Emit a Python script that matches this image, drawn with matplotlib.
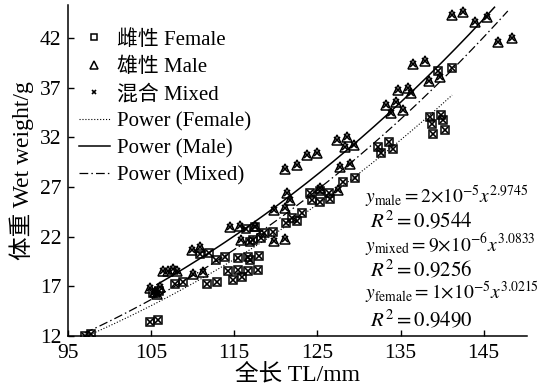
import numpy as np
import matplotlib.pyplot as plt

plt.rcParams['font.family'] = ['Liberation Serif', 'Noto Sans CJK SC']
plt.rcParams['mathtext.fontset'] = 'stix'

# total length (mm) and wet weight (g), female fish
female_tl = [97.0, 97.8, 104.9, 105.8, 105.2, 106.0, 107.9, 108.8, 111.7, 112.9,
             110.9, 112.0, 112.8, 113.9, 114.2, 114.8, 115.4, 115.9, 116.6, 117.8,
             115.4, 116.6, 116.9, 118.0, 116.4, 117.5, 116.9, 117.2, 118.2, 118.6,
             119.6, 121.2, 121.9, 122.5, 123.2, 124.1, 125.3, 126.4, 124.3, 125.3,
             126.5, 128.1, 129.5, 132.3, 132.7, 133.6, 134.1, 138.5, 138.8, 139.9,
             140.1, 138.9, 140.3, 139.5, 141.2]
female_wt = [12.0, 12.2, 13.4, 13.6, 16.3, 16.5, 17.2, 17.4, 17.2, 17.4,
             20.2, 20.3, 19.6, 19.9, 18.5, 17.6, 18.6, 17.9, 18.5, 18.6,
             19.8, 19.9, 19.6, 20.0, 22.8, 23.0, 21.5, 21.7, 21.9, 22.4,
             22.5, 23.4, 23.9, 23.6, 24.4, 26.4, 26.6, 26.4, 25.7, 25.5,
             25.8, 27.5, 27.9, 31.0, 30.4, 31.5, 30.8, 34.0, 33.3, 34.2,
             33.7, 32.3, 32.7, 38.7, 39.0]

# male fish
male_tl = [104.9, 105.5, 106.1, 105.7, 106.4, 107.0, 107.6, 108.1, 109.9, 110.9,
           110.0, 111.2, 114.5, 115.7, 117.5, 115.8, 119.8, 121.1, 119.8, 121.1,
           121.4, 121.7, 121.1, 122.5, 123.7, 125.0, 125.3, 127.5, 127.7, 128.9,
           127.3, 128.5, 128.3, 129.4, 133.2, 133.9, 135.3, 134.7, 134.5, 135.9,
           136.3, 136.5, 137.9, 138.4, 139.8, 141.2, 142.5, 144.0, 145.4, 146.7,
           148.4]
male_wt = [16.8, 16.4, 16.9, 16.2, 18.5, 18.5, 18.7, 18.5, 20.7, 21.0,
           18.2, 18.4, 23.0, 23.1, 23.1, 21.7, 21.6, 21.8, 24.7, 24.9,
           26.4, 25.7, 28.8, 29.2, 30.2, 30.4, 26.9, 26.7, 29.0, 29.3,
           31.7, 32.0, 31.0, 31.2, 35.2, 34.4, 34.7, 36.7, 35.5, 37.0,
           36.4, 39.4, 39.7, 37.7, 38.1, 44.3, 44.6, 43.6, 44.1, 41.6,
           42.0]

# mixed = all fish
mixed_tl = female_tl + male_tl
mixed_wt = female_wt + male_wt

# length range covered by each trend line
female_fit_tl = [97.0, 141.2]
male_fit_tl = [105.7, 146.3]
mixed_fit_tl = [97.0, 147.9]

eq_texts = [r'$y_{\rm male} = 2{\times}10^{-5}x^{2.9745}$', r'$R^2 = 0.9544$',
            r'$y_{\rm mixed} = 9{\times}10^{-6}x^{3.0833}$', r'$R^2 = 0.9256$',
            r'$y_{\rm female} = 1{\times}10^{-5}x^{3.0215}$', r'$R^2 = 0.9490$']
eq_y = [0.402, 0.329, 0.254, 0.181, 0.109, 0.030]


def power_fit(tl, wt, rng):
    b, ln_a = np.polyfit(np.log(tl), np.log(wt), 1)
    xs = np.linspace(rng[0], rng[1], 200)
    return xs, np.exp(ln_a) * xs ** b


fig = plt.figure(figsize=(5.41, 3.92), dpi=100)
ax = fig.add_axes([0.1257, 0.1429, 0.8483, 0.8443])

ax.plot(female_tl, female_wt, ls='none', marker='s', ms=6, mfc='none',
        mec='black', mew=1.1, label='雌性 Female')
ax.plot(male_tl, male_wt, ls='none', marker='^', ms=7, mfc='none',
        mec='black', mew=1.1, label='雄性 Male')
ax.plot(mixed_tl, mixed_wt, ls='none', marker='x', ms=4.8, mec='black',
        mew=1.2, label='混合 Mixed')

xs, ys = power_fit(female_tl, female_wt, female_fit_tl)
ax.plot(xs, ys, color='black', ls=':', lw=0.8, label='Power (Female)')
xs, ys = power_fit(male_tl, male_wt, male_fit_tl)
ax.plot(xs, ys, color='black', ls='-', lw=1.1, label='Power (Male)')
xs, ys = power_fit(mixed_tl, mixed_wt, mixed_fit_tl)
ax.plot(xs, ys, color='black', lw=0.9, dashes=(7, 2.5, 1.2, 2.5),
        label='Power (Mixed)')

ax.set_xlim(95, 150.2)
ax.set_ylim(12, 45.3)
ax.set_xticks([95, 105, 115, 125, 135, 145])
ax.set_yticks([12, 17, 22, 27, 32, 37, 42])
ax.tick_params(direction='in', length=4, width=1, labelsize=15.5, colors='black')
ax.tick_params(axis='x', pad=6)
ax.tick_params(axis='y', pad=5)
ax.spines['top'].set_visible(False)
ax.spines['right'].set_visible(False)
for s in ['left', 'bottom']:
    ax.spines[s].set_linewidth(1.1)

ax.set_xlabel('全长 TL/mm', fontsize=17, labelpad=1)
ax.set_ylabel('体重 Wet weight/g', fontsize=17, labelpad=4)

leg = ax.legend(loc='upper left', frameon=False, fontsize=15,
                bbox_to_anchor=(0.005, 0.95), handlelength=1.5,
                handletextpad=0.35, labelspacing=0.36, borderaxespad=0.0,
                markerscale=0.75)

for t, y in zip(eq_texts, eq_y):
    if t.startswith('$y'):
        ax.text(0.648, y, t, transform=ax.transAxes, fontsize=14,
                va='baseline', ha='left')
    else:
        ax.text(0.658, y, t, transform=ax.transAxes, fontsize=15,
                va='baseline', ha='left')

fig.savefig('out.png', dpi=100)
